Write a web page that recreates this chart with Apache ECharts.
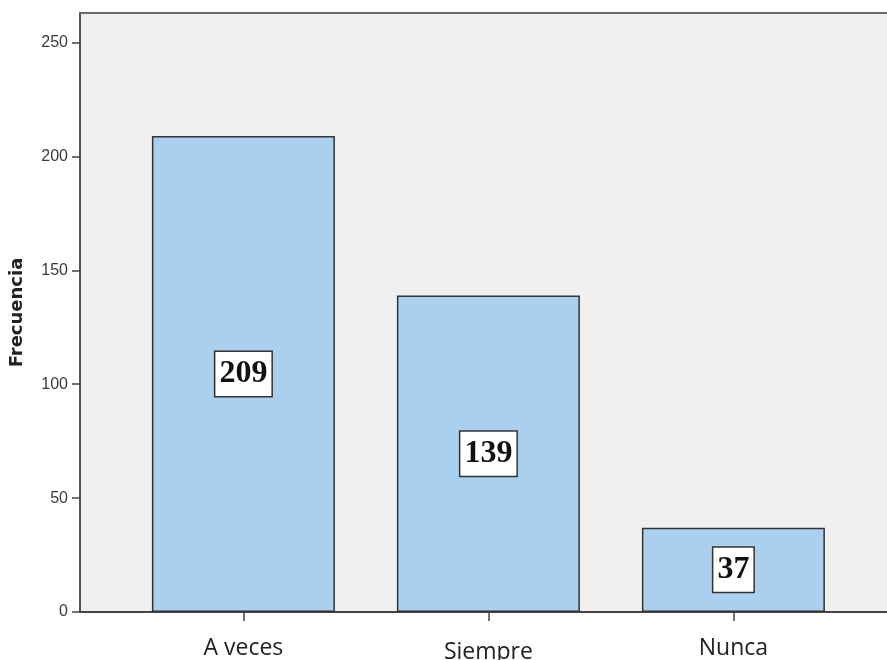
<!DOCTYPE html>
<html><head><meta charset="utf-8">
<script src="https://cdn.jsdelivr.net/npm/echarts@6/dist/echarts.min.js"></script>
<style>html,body{margin:0;padding:0;background:#fff}#c{width:887px;height:660px}</style>
</head><body><div id="c"></div>
<script>
const categories = ['A veces', 'Siempre', 'Nunca'];
const frequencies = [209, 139, 37];
const yTicks = [0, 50, 100, 150, 200, 250];
const categoryIndex = [0, 1, 2];
const yMax = 263;

const chart = echarts.init(document.getElementById('c'));
chart.setOption({
  animation: false,
  grid: {left: 80, top: 13, right: 0, bottom: 48, outerBoundsMode: 'none', containLabel: false, show: true, backgroundColor: '#f0f0f0', borderWidth: 0},
  xAxis: [{
    type: 'value', min: -0.667, max: 2.627,
    splitLine: {show: false},
    axisLine: {show: true, onZero: false, lineStyle: {color: '#444', width: 2}},
    axisTick: {show: true, customValues: categoryIndex, length: 9, lineStyle: {color: '#444', width: 1.5}},
    axisLabel: {
      customValues: categoryIndex, margin: 25,
      formatter: v => { const i = Math.round(v); return i === 1 ? '{s|' + categories[i] + '}' : '{n|' + categories[i] + '}'; },
      rich: {
        n: {fontSize: 23, fontFamily: 'Open Sans', color: '#222'},
        s: {fontSize: 23, fontFamily: 'Open Sans', color: '#222', padding: [4, 0, 0, 0]}
      }
    }
  }, {
    type: 'value', position: 'top', min: -0.667, max: 2.627,
    splitLine: {show: false}, axisTick: {show: false}, axisLabel: {show: false},
    axisLine: {show: true, onZero: false, lineStyle: {color: '#6a6a6a', width: 2}}
  }],
  yAxis: {
    type: 'value', min: 0, max: yMax,
    splitLine: {show: false},
    axisLine: {show: true, onZero: false, lineStyle: {color: '#555', width: 2}},
    axisTick: {show: true, customValues: yTicks, length: 8, lineStyle: {color: '#444', width: 1.5}},
    axisLabel: {customValues: yTicks, margin: 12, fontSize: 16, fontFamily: 'Liberation Sans', color: '#3a3a3a'},
    name: 'Frecuencia', nameLocation: 'middle', nameGap: 54,
    nameTextStyle: {fontWeight: 'bold', fontSize: 18, fontFamily: 'DejaVu Sans', color: '#222'}
  },
  series: [{
    type: 'bar',
    xAxisIndex: 0,
    data: frequencies.map((v, i) => [i, v]),
    barWidth: 183,
    itemStyle: {color: '#abcfee', borderColor: '#333', borderWidth: 1.5},
    label: {
      show: true, position: 'inside',
      formatter: p => String(p.value[1]),
      fontFamily: 'Liberation Serif', fontWeight: 'bold', fontSize: 32, color: '#111',
      backgroundColor: '#fff', borderColor: '#333', borderWidth: 1.5, padding: [6, 4, 6, 4]
    }
  }]
});
</script></body></html>
